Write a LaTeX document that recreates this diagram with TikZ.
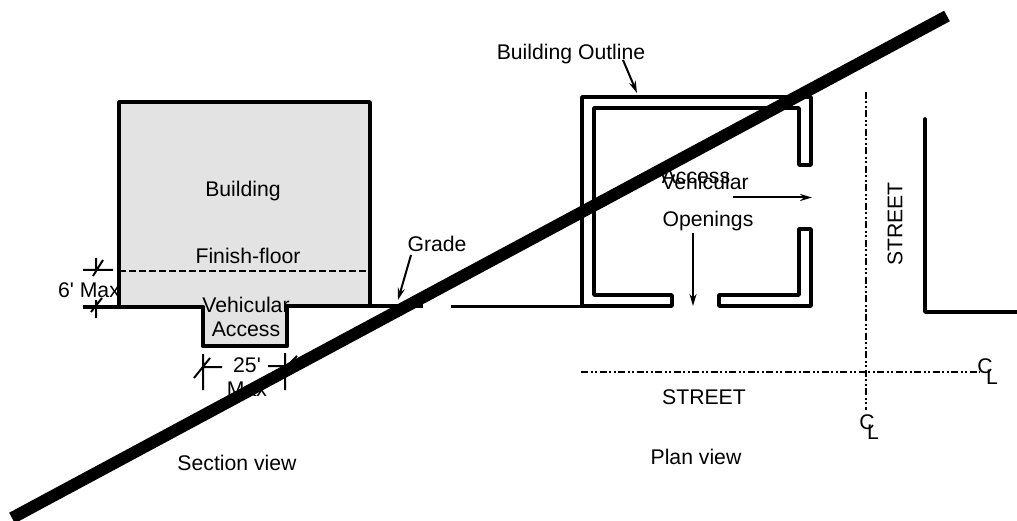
\documentclass[tikz,border=0pt]{standalone}
\usepackage{fontspec}
\setmainfont{Liberation Sans}
\usetikzlibrary{arrows.meta}
\tikzset{
  lbl/.style={inner sep=0pt,font=\fontsize{21.2}{24}\selectfont,align=center},
  wall/.style={line width=3.6pt,line cap=round,line join=round},
  thin arrow/.style={line width=2pt,-{Stealth[length=12pt,width=7pt]}},
  dim/.style={line width=2pt},
  cl/.style={line width=2pt,dash pattern=on 7pt off 2.5pt on 2pt off 2.5pt on 2pt off 2.5pt},
  strike/.style={line width=12pt}
}
\begin{document}
\begin{tikzpicture}[x=1pt,y=-1pt]
\useasboundingbox (0,0) rectangle (1017,521);
% section view
\fill[gray!22] (119,102) rectangle (370,306);
\fill[gray!22] (202,306) rectangle (287,346);
\draw[wall] (119,306) -- (119,102) -- (370,102) -- (370,306);
\draw[line width=2pt,dash pattern=on 6.5pt off 3.5pt] (119,271) -- (370,271);
\draw[line width=4.6pt,line join=round] (83,307) -- (203,307) -- (203,346) -- (287,346) -- (287,306) -- (370,306);
\draw[line width=3.6pt] (370,306) -- (423,306);
\node[lbl] (bld) at (243,191.5) {Building};
\node[lbl] (ff) at (248,256) {Finish-floor};
\node[lbl] (six) at (89,290) {6\textquotesingle{} Max};
\node[lbl] (va) at (246,317) {Vehicular\\[0pt]Access};
\node[lbl] (tf) at (247,377) {25\textquotesingle\\[0pt]Max};
\node[lbl] at (237,463) {Section view};
\node[lbl] (gr) at (437,244) {Grade};
\coordinate (grt0) at (411,255);
\coordinate (grt) at (398,300);
\draw[thin arrow] (grt0) -- (grt);
% dimension marks
\coordinate (a1) at (83,270); \coordinate (a2) at (113,270);
\draw[dim] (a1) -- (a2) (96,258) -- (96,270) (103,260) -- (93,276);
\draw[dim] (96,300) -- (96,318) (102,298) -- (91,312);
\coordinate (b1) at (203,354); \coordinate (b2) at (203,390);
\draw[dim] (b1) -- (b2) (203,367) -- (222,367) (210,358) -- (194,378);
\coordinate (c1) at (285,353); \coordinate (c2) at (285,390);
\draw[dim] (c1) -- (c2) (268,366) -- (285,366) (297,356) -- (276,377);
% plan view
\draw[line width=3pt] (451,306) -- (582,306);
\draw[wall] (582,306) -- (582,97) -- (811,97) -- (811,165) -- (799,165) -- (799,108) -- (594,108) -- (594,295) -- (672,295) -- (672,306) -- cycle;
\draw[wall] (719,306) -- (719,295) -- (799,295) -- (799,229) -- (811,229) -- (811,306) -- cycle;
\node[lbl] (acc) at (696,176) {Access};
\node[lbl] (veh) at (705,182) {Vehicular};
\coordinate (ar1) at (733,197.5); \coordinate (ar2) at (812,197.5);
\draw[thin arrow] (ar1) -- (ar2);
\node[lbl] (op) at (708,221.5) {Openings};
\coordinate (ar3) at (693,233); \coordinate (ar4) at (693,306);
\draw[thin arrow] (ar3) -- (ar4);
\node[lbl] (bo) at (571,54) {Building Outline};
\coordinate (bo1) at (623,60); \coordinate (bo2) at (637,93);
\draw[thin arrow] (bo1) -- (bo2);
\coordinate (v1) at (866,92); \coordinate (v2) at (866,410);
\coordinate (h1) at (581,372); \coordinate (h2) at (980,372);
\draw[cl] (v1) -- (v2);
\draw[cl] (h1) -- (h2);
\node[lbl] (cl1) at (867,422) {C};
\node[lbl] (cl2) at (873,432) {L};
\node[lbl] (cl3) at (985,366) {C};
\node[lbl] (cl4) at (992,377) {L};
\node[lbl] (st1) at (704,397) {STREET};
\node[lbl,rotate=90] (st2) at (895,224) {STREET};
\node[lbl] (pv) at (696,457) {Plan view};
\draw[wall] (925,119) -- (925,312) -- (1017,312);
% strike-through
\coordinate (s1) at (12,518); \coordinate (s2) at (947,16);
\draw[strike] (s1) -- (s2);
\end{tikzpicture}
\end{document}
